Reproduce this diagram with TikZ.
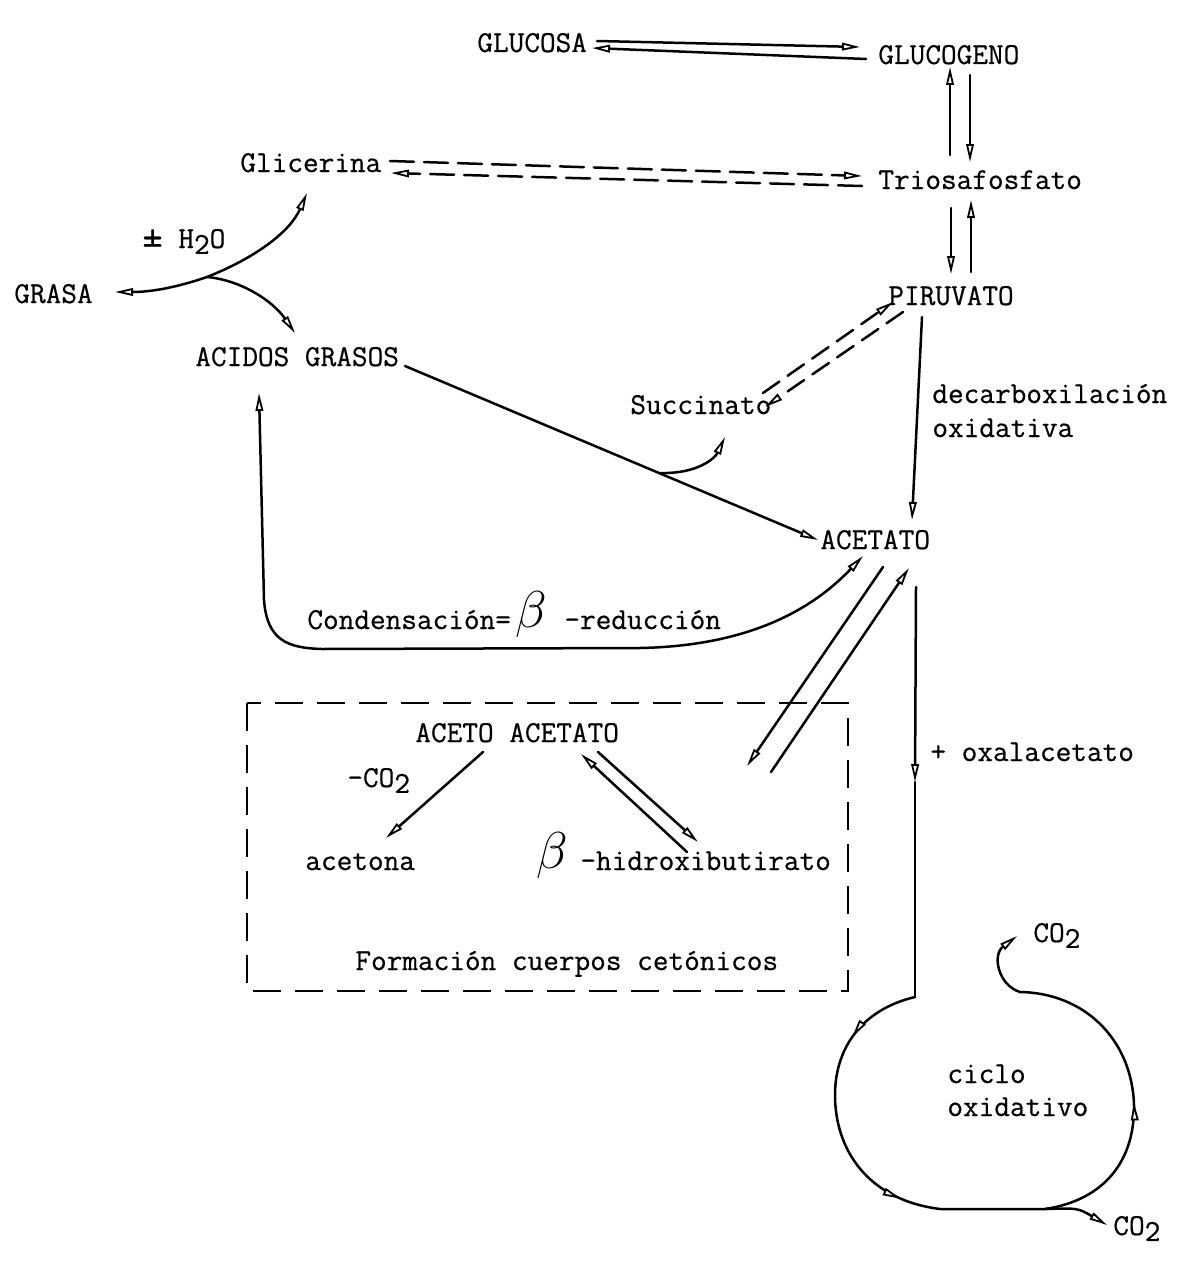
\documentclass[tikz,border=0pt]{standalone}
\usepackage{fontspec}
\newfontfamily\typewriter{Latin Modern Mono}[FakeBold=0.6]
\usetikzlibrary{arrows.meta,decorations.markings}
\tikzset{
  oarr/.tip={Triangle[fill=white,length=9pt,width=3.8pt,line width=0.9pt]},
}
\begin{document}
\begin{tikzpicture}[x=0.5pt,y=-0.5pt,
  lbl/.style={anchor=base west,inner sep=0pt,font=\fontsize{15.2}{18}\selectfont\typewriter},
  conn/.style={line width=1.25pt,line cap=round},
  fwd/.style={conn,-{oarr}},
  both/.style={conn,{oarr}-{oarr}},
  dsh/.style={dash pattern=on 12pt off 5pt},
  dshb/.style={dash pattern=on 10pt off 5pt},
  boxline/.style={line width=1.25pt,dash pattern=on 14pt off 7pt},
  midarrows/.style={postaction={decorate},decoration={markings,
    mark=at position 38pt with {\arrow{oarr}},
    mark=at position 134pt with {\arrow{oarr}},
    mark=at position 284pt with {\arrow{oarr}}}},
]
\useasboundingbox (0,0) rectangle (1190,1263);

% ---------- labels ----------
\node[lbl] (glucosa)   at (477,52)  {GLUCOSA};
\node[lbl] (glucogeno) at (878,64)  {GLUCOGENO};
\node[lbl] (triosa)    at (878,189) {Triosafosfato};
\node[lbl] (glicerina) at (240,172) {Glicerina};
\node[lbl] (water)     at (142,248) {\raisebox{0.1ex}{\scalebox{1.3}{±}} H\raisebox{-0.45ex}{2}O};
\node[lbl] (grasa)     at (14,303)  {GRASA};
\node[lbl] (piruvato)  at (888,305) {PIRUVATO};
\node[lbl] (acidos)    at (195,366) {ACIDOS GRASOS};
\node[lbl] (succinato) at (630,414) {Succinato};
\node[lbl] (decarb)    at (932,403) {decarboxilación};
\node[lbl] (oxidat)    at (932,437) {oxidativa};
\node[lbl] (acetato)   at (820,549) {ACETATO};
\node[lbl] (conden)    at (307,629) {Condensación=};
\node[lbl] (betaA)     at (515,627) {\scalebox{1.8}{$\beta$}};
\node[lbl] (reduc)     at (564,629) {-reducción};
\node[lbl] (oxal)      at (930,761) {+ oxalacetato};
\node[lbl] (aceto)     at (415,742) {ACETO ACETATO};
\node[lbl] (mco)       at (347,787) {-CO\raisebox{-0.45ex}{2}};
\node[lbl] (acetona)   at (305,870) {acetona};
\node[lbl] (betaB)     at (536,868) {\scalebox{1.8}{$\beta$}};
\node[lbl] (hidroxi)   at (580,870) {-hidroxibutirato};
\node[lbl] (formacion) at (355,970) {Formación cuerpos cetónicos};
\node[lbl] (coA)       at (1033,942) {CO\raisebox{-0.45ex}{2}};
\node[lbl] (ciclo)     at (947,1083) {ciclo};
\node[lbl] (oxidativo) at (947,1116) {oxidativo};
\node[lbl] (coB)       at (1113,1235) {CO\raisebox{-0.45ex}{2}};

% ---------- connector end points ----------
\coordinate (gsR1) at (597,41);   \coordinate (ggL1) at (860,47);
\coordinate (ggL2) at (866,59);   \coordinate (gsR2) at (592,48);
\coordinate (ggB1) at (950,155);  \coordinate (ggB0) at (950,67);
\coordinate (ggB2) at (970,75);   \coordinate (trT2) at (970,162);
\coordinate (trB1) at (951,208);  \coordinate (pvT1) at (951,274);
\coordinate (pvT2) at (971,272);  \coordinate (trB2) at (971,200);
\coordinate (glR1) at (390,161);  \coordinate (trL1) at (862,176);
\coordinate (trL2) at (862,186);  \coordinate (glR2) at (391,173);
\coordinate (junc) at (207,277);
\coordinate (grTip) at (115,292);
\coordinate (glTip) at (307,193);
\coordinate (acTip) at (295,333);
\coordinate (acR)  at (405,366);
\coordinate (atL)  at (818,540);
\coordinate (brch) at (660,473);
\coordinate (suTip) at (725,437);
\coordinate (suR1) at (763,393);  \coordinate (pvL1) at (893,302);
\coordinate (pvL2) at (903,312);  \coordinate (suR2) at (765,407);
\coordinate (pvB)  at (922,317);  \coordinate (atT)  at (912,520);
\coordinate (acB)  at (259,393);  \coordinate (atC)  at (863,556);
\coordinate (atD1) at (883,567);  \coordinate (aaTip) at (747,766);
\coordinate (aaR)  at (771,772);  \coordinate (atD2) at (909,568);
\coordinate (atV)  at (916,587);  \coordinate (oxTip) at (915,782);
\coordinate (cyIn) at (915,997);
\coordinate (aaB1) at (483,752);  \coordinate (anTip) at (386,838);
\coordinate (hbT1) at (687,852);  \coordinate (aaB2) at (581,754);
\coordinate (aaB3) at (598,752);  \coordinate (hbTip) at (698,842);
\coordinate (cyTop) at (1020,992); \coordinate (coATip) at (1017,936);
\coordinate (cyBot) at (1045,1209); \coordinate (coBTip) at (1107,1225);

% ---------- glucose / glycogen ----------
\draw[fwd] (gsR1) -- (ggL1);
\draw[fwd] (ggL2) -- (gsR2);
\draw[fwd] (ggB1) -- (ggB0);
\draw[fwd] (ggB2) -- (trT2);
\draw[fwd] (trB1) -- (pvT1);
\draw[fwd] (pvT2) -- (trB2);

% ---------- glycerol <-> triose phosphate ----------
\draw[fwd,dsh] (glR1) -- (trL1);
\draw[fwd,dsh] (trL2) -- (glR2);

% ---------- fat hydrolysis ----------
\draw[fwd] (junc) .. controls (175,288) and (150,292) .. (grTip);
\draw[fwd] (junc) .. controls (255,258) and (290,232) .. (glTip);
\draw[fwd] (junc) .. controls (240,280) and (272,300) .. (acTip);

% ---------- fatty acids -> acetate ----------
\draw[fwd] (acR) -- (atL);
\draw[fwd] (brch) .. controls (698,474) and (715,458) .. (suTip);

% ---------- pyruvate <-> succinate ----------
\draw[fwd,dshb] (suR1) -- (pvL1);
\draw[fwd,dshb] (pvL2) -- (suR2);

% ---------- oxidative decarboxylation ----------
\draw[fwd] (pvB) -- (atT);

% ---------- condensation / beta-reduction ----------
\draw[both] (acB) -- (264,600) .. controls (267,640) and (287,648) .. (322,649)
  -- (640,648) .. controls (745,646) and (810,612) .. (atC);

% ---------- acetate <-> acetoacetate ----------
\draw[fwd] (atD1) -- (aaTip);
\draw[fwd] (aaR) -- (atD2);

% ---------- ketone bodies ----------
\draw[boxline] (247,703) rectangle (848,991);
\draw[fwd] (aaB1) -- (anTip);
\draw[fwd] (hbT1) -- (aaB2);
\draw[fwd] (aaB3) -- (hbTip);

% ---------- oxidative cycle ----------
\draw[fwd] (atV) -- (oxTip);
\draw[conn] (oxTip) -- (cyIn);
\draw[fwd,midarrows] (cyIn) .. controls (860,1010) and (835,1050) .. (835,1095)
  .. controls (835,1150) and (868,1200) .. (940,1209)
  -- (cyBot)
  .. controls (1105,1200) and (1135,1160) .. (1134,1105)
  .. controls (1132,1040) and (1085,993) .. (cyTop)
  .. controls (998,985) and (992,955) .. (coATip);
\draw[fwd] (cyBot) .. controls (1078,1208) .. (coBTip);
\end{tikzpicture}
\end{document}
